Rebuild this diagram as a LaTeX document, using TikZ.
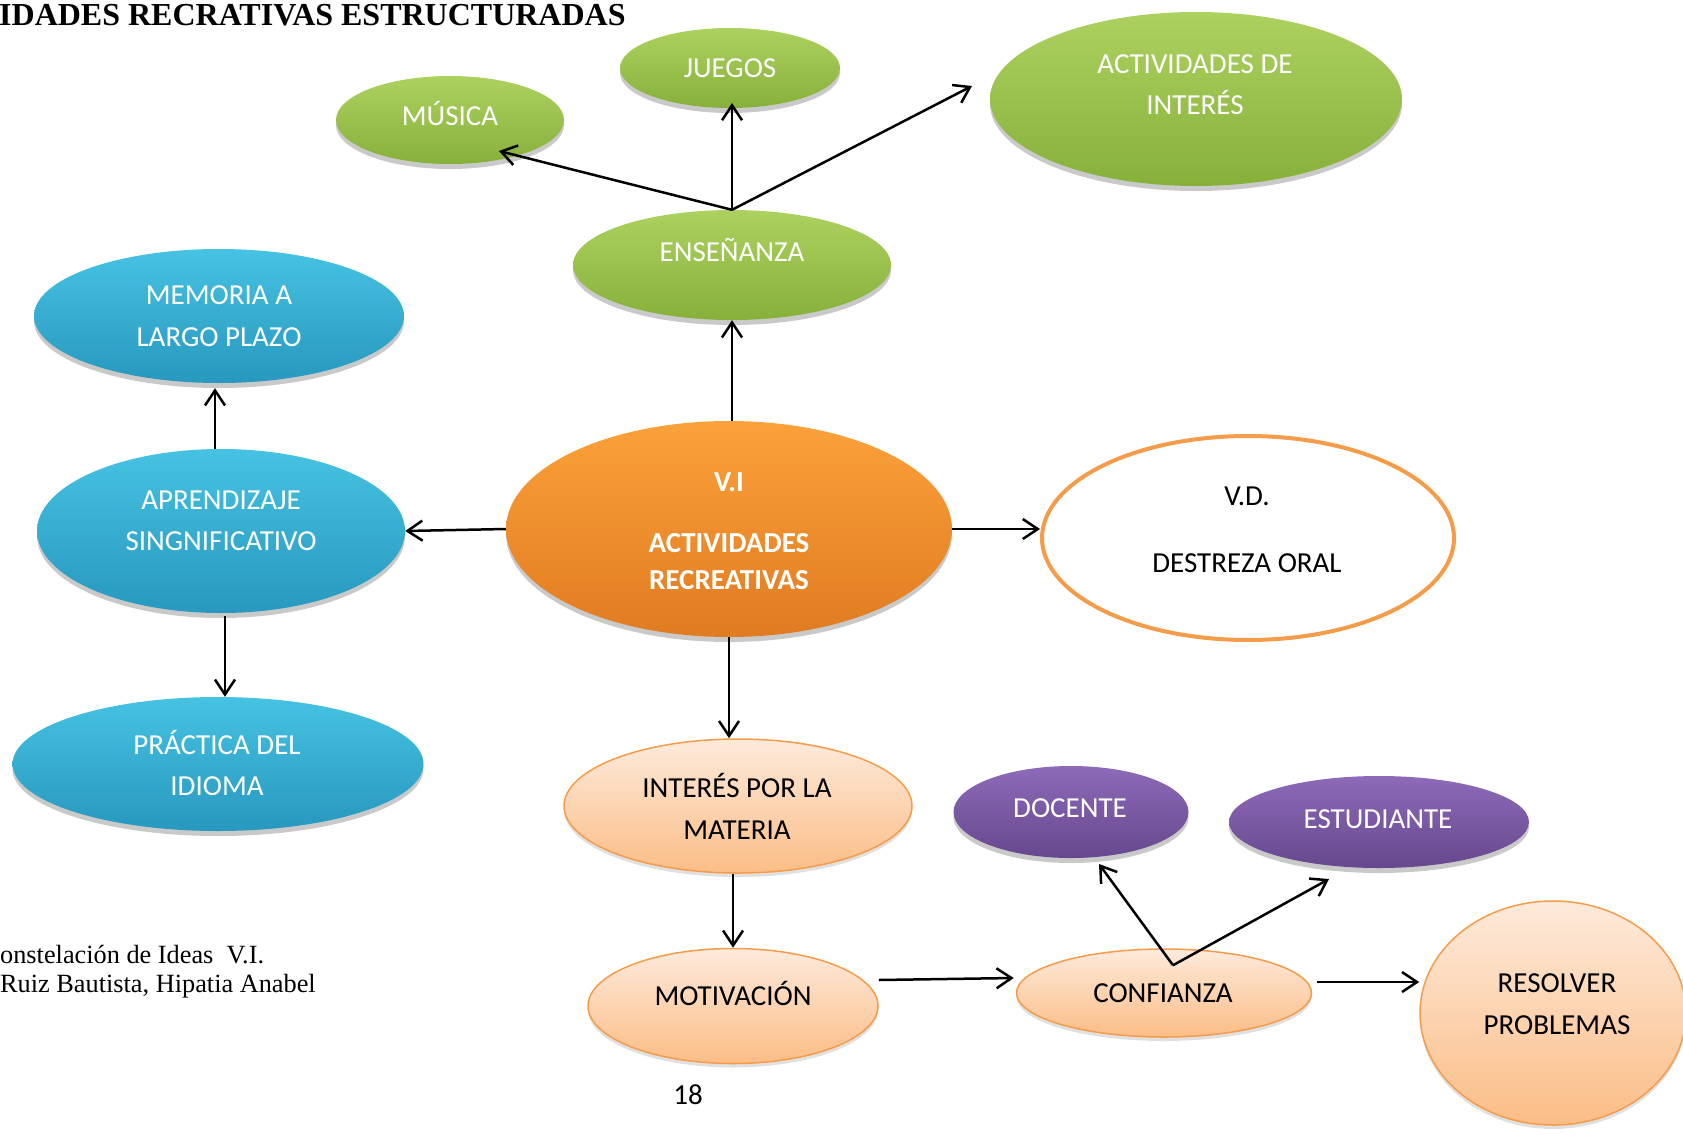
\documentclass[tikz,border=0pt]{standalone}
\usepackage{fontspec}
\setmainfont{Carlito}
\newfontfamily\timesf{Liberation Serif}
\usetikzlibrary{shapes.geometric,arrows.meta,calc,shadows}
\definecolor{gtop}{HTML}{ADD15F}
\definecolor{gbot}{HTML}{87B03B}
\definecolor{btop}{HTML}{46C2E2}
\definecolor{bbot}{HTML}{2898BE}
\definecolor{otop}{HTML}{FBA13A}
\definecolor{obot}{HTML}{E07B21}
\definecolor{ptop}{HTML}{8E6AB8}
\definecolor{pbot}{HTML}{66488E}
\definecolor{ctop}{HTML}{FDEADB}
\definecolor{cbot}{HTML}{FBBD86}
\definecolor{cline}{HTML}{F59C4A}
\newcommand\bodyfs{\fontsize{29}{41.5}\selectfont}
\begin{document}
\begin{tikzpicture}[x=1pt,y=-1pt,
  ell/.style={ellipse, inner sep=0pt, draw=none},
  shad/.style={drop shadow={shadow xshift=0pt, shadow yshift=-5pt, opacity=0.3, fill=black!70}},
  grn/.style={ell, shad, top color=gtop, bottom color=gbot},
  blu/.style={ell, shad, top color=btop, bottom color=bbot},
  org/.style={ell, shad, top color=otop, bottom color=obot},
  pur/.style={ell, shad, top color=ptop, bottom color=pbot},
  pch/.style={ell, drop shadow={shadow xshift=0pt, shadow yshift=-4pt, opacity=0.2, fill=black!60}, top color=ctop, bottom color=cbot, draw=cline, line width=1.5pt},
  tx/.style={anchor=base, inner sep=0pt, font=\bodyfs},
  txw/.style={tx, text=white},
  arr/.style={draw=black, line width=2.5pt, -{Straight Barb[length=15pt,width=20pt,line width=2.5pt]}},
]
\useasboundingbox (0,0) rectangle (1683,1135);

% shapes
\node[grn, minimum width=228, minimum height=88] (musica) at (450,120) {};
\node[grn, minimum width=220, minimum height=80] (juegos) at (730,68) {};
\node[grn, minimum width=412, minimum height=174] (actint) at (1196,99) {};
\node[grn, minimum width=318, minimum height=110] (ensen) at (732,265) {};
\node[blu, minimum width=370, minimum height=134] (memoria) at (219,316) {};
\node[blu, minimum width=368, minimum height=164] (aprend) at (221,531) {};
\node[blu, minimum width=411, minimum height=134] (practica) at (218,764) {};
\node[org, minimum width=446, minimum height=216] (vi) at (729,529) {};
\node[ell, fill=white, draw=cline, line width=4pt, minimum width=412, minimum height=204] (vd) at (1248,538) {};
\node[pch, minimum width=348, minimum height=134] (interes) at (738,806) {};
\node[pch, minimum width=290, minimum height=115] (motiv) at (733,1006) {};
\node[pch, minimum width=295, minimum height=88] (conf) at (1164,993) {};
\node[pur, minimum width=235, minimum height=92] (docente) at (1071,812) {};
\node[pur, minimum width=300, minimum height=92] (estud) at (1379,822) {};
\node[pch, minimum width=266, minimum height=224] (resolver) at (1553,1013) {};

% texts
\node[txw] (t1) at (450,125.5) {MÚSICA};
\node[txw] (t2) at (730,77.5) {JUEGOS};
\node[txw] (t3) at (1195,73.5) {ACTIVIDADES DE};
\node[txw] (t4) at (1195,114.5) {INTERÉS};
\node[txw] (t5) at (732,261.5) {ENSEÑANZA};
\node[txw] (t6) at (219,304.5) {MEMORIA A};
\node[txw] (t7) at (219,346.5) {LARGO PLAZO};
\node[txw] (t8) at (221,509.5) {APRENDIZAJE};
\node[txw] (t9) at (221,550.5) {SINGNIFICATIVO};
\node[txw] (t10) at (217,754.5) {PRÁCTICA DEL};
\node[txw] (t11) at (217,795.5) {IDIOMA};
\node[txw, font=\bodyfs\bfseries] (t12) at (729,491.5) {V.I};
\node[txw, font=\bodyfs\bfseries] (t13) at (729,552.5) {ACTIVIDADES};
\node[txw, font=\bodyfs\bfseries] (t14) at (729,589.5) {RECREATIVAS};
\node[tx] (t15) at (1247,505.5) {V.D.};
\node[tx] (t16) at (1247,572.5) {DESTREZA ORAL};
\node[tx] (t17) at (737,797.5) {INTERÉS POR LA};
\node[tx] (t18) at (737,839.5) {MATERIA};
\node[tx] (t19) at (733,1005.5) {MOTIVACIÓN};
\node[tx] (t20) at (1163,1002.5) {CONFIANZA};
\node[txw] (t21) at (1070,817.5) {DOCENTE};
\node[txw] (t22) at (1378,828.5) {ESTUDIANTE};
\node[tx] (t23) at (1557,992.5) {RESOLVER};
\node[tx] (t24) at (1557,1034.5) {PROBLEMAS};
\node[tx] (pg) at (688,1104.5) {18};

\node[anchor=base west, inner sep=0pt, font=\timesf\bfseries\fontsize{32}{36}\selectfont] (title) at (-1,25) {IDADES RECRATIVAS ESTRUCTURADAS};
\node[anchor=base west, inner sep=0pt, font=\timesf\fontsize{26.3}{30}\selectfont] (cap1) at (0,963) {onstelación de Ideas\ \ V.I.};
\node[anchor=base west, inner sep=0pt, font=\timesf\fontsize{26.3}{30}\selectfont] (cap2) at (0,992) {Ruiz Bautista, Hipatia Anabel};

% connectors
\coordinate (eb) at (ensen.north);
\draw[arr] (eb) -- ($(musica.center)+(49,31)$);
\draw[arr] (eb) -- ($(juegos.center)+(2,35)$);
\draw[arr] (eb) -- ($(actint.center)+(-224,-13)$);
\draw[arr] (vi.north -| ensen.south) -- (ensen.south);
\draw[arr] (vi.west) -- (aprend.east);
\draw[arr] (vi.east) -- (vi.east -| vd.west);
\draw[arr] (vi.south) -- (vi.south |- interes.north);
\coordinate (an) at ($(aprend.north)+(-6,0)$);
\draw[arr, shorten >=5pt] (an) -- (an |- memoria.south);
\coordinate (as) at ($(aprend.south)+(4,3)$);
\draw[arr] (as) -- (as |- practica.north);
\draw[arr] (interes.south -| motiv.north) -- (motiv.north);
\draw[arr] ($(motiv.east)+(0,-26)$) -- ($(conf.west)+(-2,-15)$);
\coordinate (ce) at ($(conf.east)+(5,-11)$);
\draw[arr] (ce) -- (ce -| resolver.west);
\coordinate (cb) at ($(conf.north)+(9,17)$);
\draw[arr] (cb) -- ($(docente.center)+(28,52)$);
\draw[arr] (cb) -- ($(estud.center)+(-50,57)$);
\end{tikzpicture}
\end{document}
